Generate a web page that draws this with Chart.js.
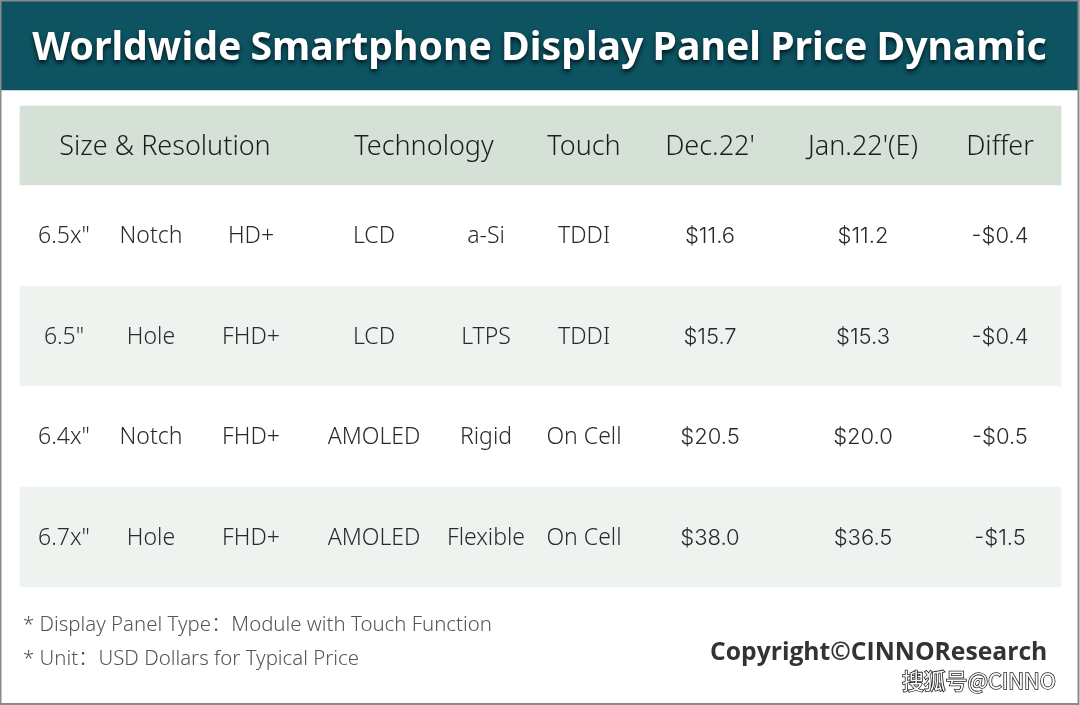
<!DOCTYPE html>
<html><head><meta charset="utf-8">
<style>html,body{margin:0;padding:0;background:#fff;overflow:hidden}canvas{display:block}</style>
<script src="https://cdn.jsdelivr.net/npm/chart.js@4/dist/chart.umd.min.js"></script>
</head><body><canvas id="c" width="1080" height="705"></canvas>
<script>
// ---- table content ----
const titleText = "Worldwide Smartphone Display Panel Price Dynamic";
const headerLabels = ["Size & Resolution","Technology","Touch","Dec.22'","Jan.22'(E)","Differ"];
const sizes = ['6.5x"','6.5"','6.4x"','6.7x"'];
const cutouts = ["Notch","Hole","Notch","Hole"];
const resolutions = ["HD+","FHD+","FHD+","FHD+"];
const panelTech = ["LCD","LCD","AMOLED","AMOLED"];
const backplanes = ["a-Si","LTPS","Rigid","Flexible"];
const touchTypes = ["TDDI","TDDI","On Cell","On Cell"];
const dec22 = [11.6,15.7,20.5,38.0];
const jan22 = [11.2,15.3,20.0,36.5];
const differ = [-0.4,-0.4,-0.5,-1.5];
const footnotes = ["* Display Panel Type：Module with Touch Function","* Unit：USD Dollars for Typical Price"];
const copyrightText = "Copyright©CINNOResearch";
const watermarkText = "搜狐号@CINNO";

// ---- layout (in axis units, the scales map 1:1 on the page) ----
const rowY = [235,335.5,436,536.5];
const headerY = 145.5, titleY = 45;
const textNudge = 1.5;
const bodyX = [64,151,251,374,486,584,710,863,1000];
const headerX = [165,424,584,710,863,1000];
const BODY = '300 23px "Noto Sans","Open Sans",sans-serif';
const MONEY = '300 22px "Inter","Noto Sans",sans-serif';
const HEAD = '300 27px "Noto Sans","Open Sans",sans-serif';
const NOTE = '300 20.4px "Noto Sans","Noto Sans CJK SC",sans-serif';

const money = v => (v<0?'-':'')+'$'+Math.abs(v).toFixed(1);

const tablePlugin = {
  id:'tableText',
  afterDatasetsDraw(chart){
    const {ctx,scales:{x,y}} = chart;
    const put=(t,px,py,font,color,align)=>{
      ctx.font=font;ctx.fillStyle=color;ctx.textAlign=align||'center';ctx.textBaseline='middle';
      ctx.fillText(t,x.getPixelForValue(px),y.getPixelForValue(py+textNudge));
    };
    ctx.save();
    // title
    ctx.save();
    ctx.shadowColor='rgba(0,20,25,0.9)';ctx.shadowOffsetX=0;ctx.shadowOffsetY=3;ctx.shadowBlur=4;
    ctx.wordSpacing='-1px';
    put(titleText,539.5,titleY+2.5,'700 39.2px "Noto Sans","Open Sans",sans-serif','#ffffff');
    ctx.restore();
    // header
    headerLabels.forEach((t,i)=>put(t,headerX[i],headerY,HEAD,'#1c1c1c'));
    // rows
    rowY.forEach((ry,i)=>{
      [sizes[i],cutouts[i],resolutions[i],panelTech[i],backplanes[i],touchTypes[i]]
        .forEach((t,j)=>put(t,bodyX[j],ry,BODY,'#2a2a2a'));
      [money(dec22[i]),money(jan22[i]),money(differ[i])]
        .forEach((t,j)=>put(t,bodyX[j+6],ry,MONEY,'#2a2a2a'));
    });
    // notes
    put(footnotes[0],23,623.5,NOTE,'#555555','left');
    put(footnotes[1],23,657.5,NOTE,'#555555','left');
    put(copyrightText,710,651,'700 24.7px "Open Sans","Noto Sans",sans-serif','#333333','left');
    // watermark
    ctx.font='21.8px "Noto Sans CJK SC","Noto Sans",sans-serif';ctx.textAlign='left';ctx.textBaseline='middle';
    ctx.lineWidth=1.6;ctx.strokeStyle='#222';ctx.strokeText(watermarkText,902,681);
    ctx.fillStyle='#fff';ctx.fillText(watermarkText,902,681);
    // frame
    ctx.strokeStyle='#8a8a8a';ctx.lineWidth=2;ctx.strokeRect(0.5,0.5,1078,703.5);
    ctx.restore();
  }
};

new Chart(document.getElementById('c'),{
  type:'bar',
  data:{datasets:[
    {data:[{y:titleY,x:[0,1079]}],backgroundColor:'#0d5361',barThickness:90,grouped:false},
    {data:[{y:headerY,x:[20,1061]}],backgroundColor:'#d5e0d7',barThickness:79,grouped:false},
    {data:[{y:rowY[1]+0.5,x:[20,1061]},{y:rowY[3]+0.5,x:[20,1061]}],backgroundColor:'#eef3ef',barThickness:100,grouped:false}
  ]},
  options:{
    indexAxis:'y',responsive:false,animation:false,devicePixelRatio:1,
    layout:{padding:0},
    plugins:{legend:{display:false},tooltip:{enabled:false},title:{display:false}},
    scales:{
      x:{type:'linear',min:0,max:1080,display:false,offset:false},
      y:{type:'linear',min:0,max:705,reverse:true,display:false,offset:false}
    }
  },
  plugins:[tablePlugin]
});
</script></body></html>
